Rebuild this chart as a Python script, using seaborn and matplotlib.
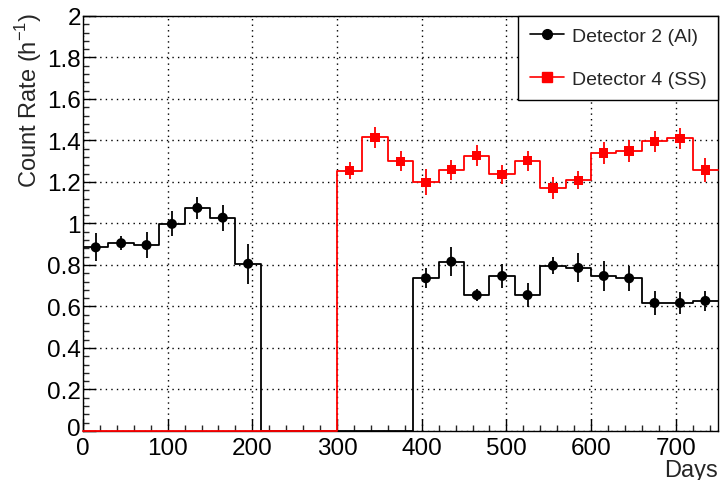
import numpy as np
import pandas as pd
import matplotlib
matplotlib.use("Agg")
import matplotlib.pyplot as plt
import matplotlib.transforms as mtransforms
from matplotlib.lines import Line2D
from matplotlib.ticker import MultipleLocator
import seaborn as sns

# ---- data ----
bin_edges = list(range(0, 751, 30))

det2_days = [15, 45, 75, 105, 135, 165, 195,
             405, 435, 465, 495, 525, 555, 585, 615, 645, 675, 705, 735]
det2_rate = [0.885, 0.905, 0.896, 0.998, 1.075, 1.028, 0.806,
             0.736, 0.816, 0.655, 0.747, 0.655, 0.797, 0.786, 0.747, 0.736, 0.617, 0.617, 0.627]
det2_err = [0.068, 0.034, 0.063, 0.060, 0.052, 0.062, 0.096,
            0.048, 0.070, 0.028, 0.058, 0.059, 0.040, 0.070, 0.070, 0.059, 0.060, 0.052, 0.050]

det4_days = [315, 345, 375, 405, 435, 465, 495, 525, 555, 585, 615, 645, 675, 705, 735]
det4_rate = [1.255, 1.415, 1.300, 1.198, 1.259, 1.327, 1.237, 1.303, 1.171, 1.208,
             1.340, 1.349, 1.396, 1.411, 1.258]
det4_err = [0.042, 0.049, 0.049, 0.063, 0.048, 0.050, 0.047, 0.048, 0.052, 0.044,
            0.055, 0.053, 0.052, 0.050, 0.056]

ytick_labels = ["0", "0.2", "0.4", "0.6", "0.8", "1", "1.2", "1.4", "1.6", "1.8", "2"]
label2 = "Detector 2 (Al)"
label4 = "Detector 4 (SS)"

df2 = pd.DataFrame({"days": det2_days, "rate": det2_rate, "err": det2_err})
df4 = pd.DataFrame({"days": det4_days, "rate": det4_rate, "err": det4_err})

sns.set_theme(style="ticks")
plt.rcParams["font.family"] = ["Liberation Sans", "DejaVu Sans"]

fig = plt.figure(figsize=(7.2, 4.81), dpi=100)
ax = fig.add_axes([0.1153, 0.1019, 0.8820, 0.8628])

red = "#ff0000"

# step histograms
sns.histplot(data=df4, x="days", weights="rate", bins=bin_edges, element="step",
             fill=False, color=red, linewidth=1.3, ax=ax, clip_on=False, zorder=4)
sns.histplot(data=df2, x="days", weights="rate", bins=bin_edges, element="step",
             fill=False, color="black", linewidth=1.3, ax=ax, zorder=3)

# error bars (vertical only)
ax.errorbar(df4["days"], df4["rate"], yerr=df4["err"], fmt="none", ecolor=red,
            elinewidth=1.3, capsize=0, zorder=5)
ax.errorbar(df2["days"], df2["rate"], yerr=df2["err"], fmt="none", ecolor="black",
            elinewidth=1.3, capsize=0, zorder=5)

# markers
sns.scatterplot(data=df4, x="days", y="rate", marker="s", color=red, s=45,
                edgecolor="none", ax=ax, zorder=6)
sns.scatterplot(data=df2, x="days", y="rate", marker="o", color="black", s=52,
                edgecolor="none", ax=ax, zorder=6)

ax.set_xlim(0, 750)
ax.set_ylim(0, 2)
ax.xaxis.set_major_locator(MultipleLocator(100))
ax.xaxis.set_minor_locator(MultipleLocator(20))
ax.set_yticks(np.arange(0, 2.01, 0.2))
ax.set_yticklabels(ytick_labels)
ax.yaxis.set_minor_locator(MultipleLocator(0.04))

ax.grid(True, which="major", color="black", linestyle=(0, (1, 3)), linewidth=1.0)
ax.set_axisbelow(True)
ax.tick_params(which="major", direction="in", length=9, width=1, labelsize=17.5,
               top=False, right=False, colors="black")
ax.tick_params(axis="x", which="major", pad=4.5)
ax.tick_params(axis="y", which="major", pad=1.5)
ax.tick_params(which="minor", direction="in", length=4.5, width=1, top=False, right=False)
for s in ax.spines.values():
    s.set_color("black")
    s.set_linewidth(1.0)

# nudge the y-axis "0" label up a little so it does not collide with the x-axis "0"
ylab0 = ax.get_yticklabels()[0]
ylab0.set_transform(ylab0.get_transform() +
                    mtransforms.ScaledTranslation(0, 3.5 / 72, fig.dpi_scale_trans))

ax.set_ylabel("Count Rate (h$^{\\mathregular{-1}}$)", fontsize=17)
ax.yaxis.set_label_coords(-0.062, 0.80)
ax.set_xlabel("Days", fontsize=17)
ax.xaxis.set_label_coords(1.0, -0.068)
ax.xaxis.label.set_horizontalalignment("right")

handles = [
    Line2D([], [], color="black", marker="o", markersize=7, linewidth=1.2),
    Line2D([], [], color=red, marker="s", markersize=6.5, linewidth=1.2),
]
leg = ax.legend(handles, [label2, label4], loc="upper right", bbox_to_anchor=(1.0, 1.0),
                frameon=True, fancybox=False, edgecolor="black", framealpha=1,
                fontsize=14, labelspacing=1.3, handlelength=1.75, handletextpad=0.4,
                borderpad=0.6, borderaxespad=0.0)
leg.get_frame().set_linewidth(1.0)
leg.set_zorder(10)

fig.savefig("out.png", dpi=100)
